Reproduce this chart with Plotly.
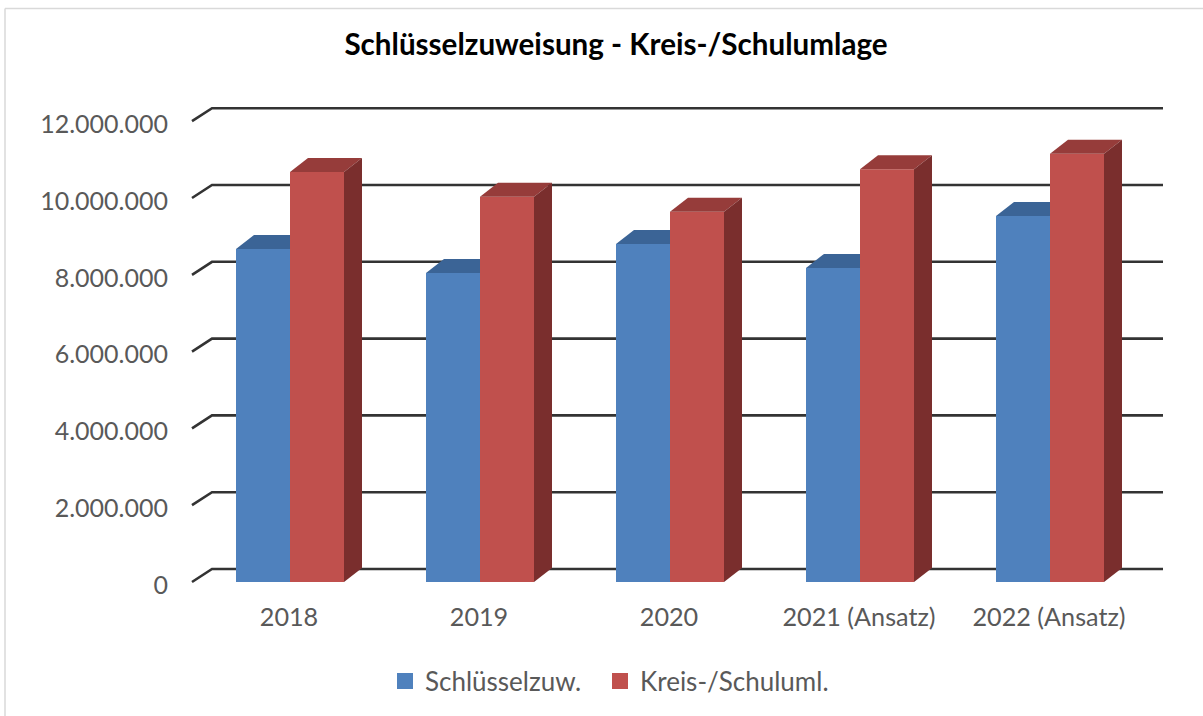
import plotly.graph_objects as go

categories = ["2018", "2019", "2020", "2021 (Ansatz)", "2022 (Ansatz)"]
schluesselzuw = [8670000, 8050000, 8800000, 8180000, 9530000]
kreis_schuluml = [10680000, 10030000, 9640000, 10750000, 11150000]
y_ticks = [0, 2000000, 4000000, 6000000, 8000000, 10000000, 12000000]
y_labels = ["0", "2.000.000", "4.000.000", "6.000.000", "8.000.000", "10.000.000", "12.000.000"]
series_names = ["Schlüsselzuw.", "Kreis-/Schuluml."]

W, H = 1203, 716
L, R, T, B = 188, 1168, 100, 590      # plot area in page pixels (a little wider than the drawn lines)
ZERO_PX = 582.0                       # pixel of value 0 on the front plane
CAT_PX = 190.0                        # one category in pixels
VAL_PX = 38.4 / 1e6                   # pixels per unit value
X0_PX = 290.0                         # pixel of first category centre

x_range = [(L - X0_PX) / CAT_PX, (R - X0_PX) / CAT_PX]
y_range = [(ZERO_PX - B) / VAL_PX, (ZERO_PX - T) / VAL_PX]
grid_x0 = (192 - X0_PX) / CAT_PX
grid_x1 = (1163 - X0_PX) / CAT_PX
bar_w = 54 / CAT_PX
wall_dx, wall_dy = 20 / CAT_PX, 13 / VAL_PX
bar_dx, bar_dy = 18 / CAT_PX, 14 / VAL_PX

BLUE, BLUE_TOP = "#4f81bd", "#3b6496"
RED, RED_TOP, RED_SIDE = "#c0504d", "#963c3a", "#7a2e2d"
TEXT = "#595959"
FONT = "Lato, Carlito, sans-serif"

fig = go.Figure()
xs = list(range(len(categories)))

fig.add_bar(x=xs, y=schluesselzuw, width=bar_w, offset=-bar_w, marker=dict(color=BLUE, line_width=0),
            name=series_names[0], showlegend=False, hoverinfo="y")
fig.add_bar(x=xs, y=kreis_schuluml, width=bar_w, offset=0, marker=dict(color=RED, line_width=0),
            name=series_names[1], showlegend=False, hoverinfo="y")


def poly(px, py, color):
    fig.add_scatter(x=px, y=py, mode="lines", fill="toself", fillcolor=color,
                    line=dict(width=0, color=color), hoverinfo="skip", showlegend=False)


for x, blue, red in zip(xs, schluesselzuw, kreis_schuluml):
    # blue top, stops where the red bar begins
    poly([x - bar_w, x - bar_w + bar_dx, x, x, x - bar_w],
         [blue, blue + bar_dy, blue + bar_dy, blue, blue], BLUE_TOP)
    # red top
    poly([x, x + bar_dx, x + bar_w + bar_dx, x + bar_w, x],
         [red, red + bar_dy, red + bar_dy, red, red], RED_TOP)
    # red side
    poly([x + bar_w, x + bar_w + bar_dx, x + bar_w + bar_dx, x + bar_w, x + bar_w],
         [0, bar_dy, red + bar_dy, red, 0], RED_SIDE)

# legend keys
fig.add_scatter(x=[None], y=[None], mode="markers", name=series_names[0], legend="legend",
                marker=dict(symbol="square", size=16, color=BLUE))
fig.add_scatter(x=[None], y=[None], mode="markers", name=series_names[1], legend="legend2",
                marker=dict(symbol="square", size=16, color=RED))

shapes = []
for v in y_ticks:
    shapes.append(dict(type="path", xref="x", yref="y", layer="below",
                       path=f"M {grid_x0} {v} L {grid_x0 + wall_dx} {v + wall_dy} L {grid_x1} {v + wall_dy}",
                       line=dict(color="#333333", width=2.6)))
# outer frame
px = lambda p: (p - L) / (R - L)
py = lambda p: (B - p) / (B - T)
shapes.append(dict(type="line", xref="paper", yref="paper", x0=px(5), x1=px(W), y0=py(8.5), y1=py(8.5),
                   line=dict(color="#d9d9d9", width=1.5)))
shapes.append(dict(type="line", xref="paper", yref="paper", x0=px(5), x1=px(5), y0=py(8.5), y1=py(H),
                   line=dict(color="#d9d9d9", width=1.5)))

legend_common = dict(orientation="h", xref="container", xanchor="left", y=1 - 681 / H, yref="container",
                     yanchor="middle", font=dict(size=26, color=TEXT, family=FONT), bgcolor="rgba(0,0,0,0)")

fig.update_layout(
    width=W, height=H,
    margin=dict(l=L, r=W - R, t=T, b=H - B, pad=0),
    paper_bgcolor="white", plot_bgcolor="white",
    barmode="overlay",
    shapes=shapes,
    font=dict(family=FONT, color=TEXT),
    title=dict(text="<b>Schlüsselzuweisung - Kreis-/Schulumlage</b>", x=616 / W, xanchor="center",
               y=1 - 45 / H, yanchor="middle", font=dict(family=FONT, size=29.6, color="#000000")),
    xaxis=dict(range=x_range, tickmode="array", tickvals=xs, ticktext=categories, showgrid=False,
               zeroline=False, showline=False, ticks="", ticklabelstandoff=10, ticklabelshift=-1,
               tickfont=dict(size=25.2, color=TEXT, family=FONT)),
    yaxis=dict(range=y_range, tickmode="array", tickvals=y_ticks, ticktext=y_labels, showgrid=False,
               zeroline=False, showline=False, ticks="", ticklabelstandoff=19, ticklabelshift=3,
               tickfont=dict(size=25, color=TEXT, family=FONT)),
    legend=dict(x=385 / W, **legend_common),
    legend2=dict(x=600 / W, **legend_common),
)

fig.write_html("out.html", config={"displayModeBar": False},
               post_script="document.body.style.margin='0';window.dispatchEvent(new Event('resize'));")
